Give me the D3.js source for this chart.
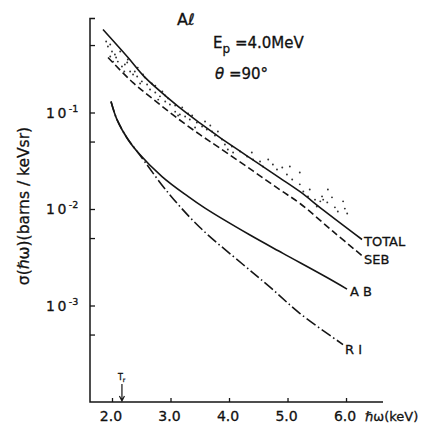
<!DOCTYPE html>
<html>
<head>
<meta charset="utf-8">
<script src="https://cdn.jsdelivr.net/npm/d3@7/dist/d3.min.js"></script>
<style>
  html, body { margin: 0; padding: 0; background: #fff; }
  svg { display: block; }
  text { font-family: "DejaVu Sans", "Liberation Sans", sans-serif; fill: #111; stroke: #111; stroke-width: 0.3px; }
</style>
</head>
<body>
<svg id="chart" width="432" height="427"></svg>
<script>
// Photon energy (keV) and cross section (barns / keV sr) for each curve
const totalE  = [1.846, 2.274, 2.564, 2.991, 3.282, 3.504, 3.846, 4.188, 4.530, 4.872, 5.214, 5.607, 6.274];
const totalV  = [0.724, 0.371, 0.231, 0.136, 0.0977, 0.0776, 0.0550, 0.0398, 0.0288, 0.0209, 0.0151, 0.0098, 0.00483];

const sebE    = [1.932, 2.359, 2.701, 3.077, 3.504, 3.846, 4.410, 4.872, 5.214, 5.778, 6.291];
const sebV    = [0.371, 0.204, 0.138, 0.0910, 0.0589, 0.0427, 0.0248, 0.0158, 0.0114, 0.00585, 0.00322];

const abE     = [1.983, 2.085, 2.274, 2.444, 2.855, 3.299, 3.590, 4.359, 4.923, 5.675, 6.017];
const abV     = [0.130, 0.0845, 0.0525, 0.0385, 0.0217, 0.0135, 0.0102, 0.00537, 0.00347, 0.00195, 0.00148];

const riE     = [1.983, 2.085, 2.274, 2.444, 2.957, 3.504, 4.239, 4.701, 5.214, 5.949];
const riV     = [0.130, 0.0845, 0.0525, 0.0385, 0.0148, 0.00643, 0.00266, 0.00155, 0.000826, 0.000394];

// Measured spectrum points
const expE = [1.93, 2.00, 1.97, 2.05, 2.10, 2.17, 2.22, 2.31, 2.36, 2.43, 2.51, 2.60, 2.65, 2.74, 2.82, 2.91, 2.99,
              3.08, 3.16, 3.25, 3.33, 3.45, 3.54, 3.62, 3.71,
              2.14, 2.27, 2.44, 2.56, 2.74, 2.91, 3.08, 3.30, 3.59,
              2.02, 2.21, 2.48, 2.79, 3.13, 3.42, 3.76,
              1.90, 1.97, 2.07, 2.26, 2.39, 2.53, 2.68, 2.86, 2.96, 3.20, 3.37, 3.68, 3.81, 3.88,
              3.93, 3.98, 4.05, 4.07, 4.19, 4.31, 4.39, 4.41, 4.53, 4.58, 4.67, 4.75, 4.82, 4.91, 4.99, 5.04,
              5.08, 5.21, 5.21, 5.27, 5.38, 5.35, 5.47, 5.56, 5.61, 5.68, 5.69, 5.76, 5.81, 5.86, 5.95, 5.98,
              6.02, 5.50, 5.59];
const expV = [0.483, 0.428, 0.380, 0.399, 0.337, 0.300, 0.314, 0.266, 0.248, 0.236, 0.210, 0.195, 0.173, 0.161, 0.147, 0.130, 0.121,
              0.102, 0.0953, 0.0910, 0.0845, 0.0787, 0.0716, 0.0667, 0.0636,
              0.428, 0.354, 0.292, 0.231, 0.190, 0.150, 0.118, 0.0977, 0.0807,
              0.337, 0.266, 0.200, 0.136, 0.0931, 0.0700, 0.0578,
              0.545, 0.507, 0.371, 0.330, 0.266, 0.248, 0.200, 0.165, 0.140, 0.113, 0.0931, 0.0733, 0.0636, 0.0525,
              0.0466, 0.0414, 0.0445, 0.0385, 0.0394, 0.0350, 0.0385, 0.0326, 0.0311, 0.0276, 0.0326, 0.0289, 0.0257, 0.0269, 0.0228, 0.0276,
              0.0202, 0.0239, 0.0180, 0.0152, 0.0159, 0.0135, 0.0125, 0.0120, 0.0125, 0.0117, 0.0159, 0.0132, 0.0104, 0.00942, 0.0120, 0.0101,
              0.00898, 0.0106, 0.0135];

// Axis ticks
const xTicks = [2.0, 3.0, 4.0, 5.0, 6.0];
const xTickLabels = ["2.0", "3.0", "4.0", "5.0", "6.0"];
const yMajor = [1e-1, 1e-2, 1e-3];
const yMajorExp = ["-1", "-2", "-3"];
const yMinor = [5e-1, 5e-2, 5e-3, 5e-4];
const thresholdE = 2.17;

const svg = d3.select("#chart");

const x = d3.scaleLinear().domain([1.624, 6.632]).range([90, 383]);
const y = d3.scaleLog().domain([1e-4, 1]).range([402, 16]);

const ink = "#151515";

// Axes: left axis with inward ticks and a small cap at top, bottom axis with inward ticks
const yTop = 0.94;
svg.append("path")
  .attr("d", `M${x.range()[0] + 5},${y(yTop)}H${x.range()[0]}V${y(1e-4)}H${x.range()[1]}`)
  .attr("fill", "none").attr("stroke", ink).attr("stroke-width", 1.5);

const yAxis = d3.axisRight(y).tickValues(yMajor.concat(yMinor)).tickSize(5).tickFormat("");
const gy = svg.append("g").attr("transform", `translate(${x.range()[0]},0)`).call(yAxis);
gy.select(".domain").remove();
gy.selectAll(".tick line").attr("stroke", ink).attr("stroke-width", 1.3);

const xAxis = d3.axisTop(x).tickValues(xTicks).tickSize(4).tickFormat("");
const gx = svg.append("g").attr("transform", `translate(0,${y(1e-4)})`).call(xAxis);
gx.select(".domain").remove();
gx.selectAll(".tick line").attr("stroke", ink).attr("stroke-width", 1.3);

// X tick labels
svg.selectAll(".xlab").data(xTicks).join("text")
  .attr("class", "xlab")
  .attr("x", d => x(d) - 1)
  .attr("y", 421)
  .attr("text-anchor", "middle")
  .attr("font-size", 14)
  .text((d, i) => xTickLabels[i]);

svg.append("text")
  .attr("x", 365).attr("y", 421)
  .attr("font-size", 13)
  .text("ℏω(keV)");

// Y tick labels: 10 with a superscript exponent
yMajor.forEach((v, i) => {
  const t = svg.append("text")
    .attr("x", 46).attr("y", y(v) + 5)
    .attr("font-size", 14)
    .attr("letter-spacing", 2.5);
  t.append("tspan").text("10");
  t.append("tspan").attr("dy", -6).attr("font-size", 9.5).attr("letter-spacing", 0).text(yMajorExp[i]);
});

// Y axis title
svg.append("text")
  .attr("transform", `translate(29,206) rotate(-90)`)
  .attr("text-anchor", "middle")
  .attr("font-size", 15.5)
  .text("σ(ℏω)(barns / keVsr)");

// Measured points
svg.append("g").selectAll("circle").data(expE).join("circle")
  .attr("cx", d => x(d))
  .attr("cy", (d, i) => y(expV[i]))
  .attr("r", 0.95)
  .attr("fill", "#333");

// Curves
const line = d3.line().x(d => x(d[0])).y(d => y(d[1])).curve(d3.curveCatmullRom.alpha(0.5));
function curve(E, V, dash) {
  svg.append("path")
    .attr("d", line(E.map((e, i) => [e, V[i]])))
    .attr("fill", "none")
    .attr("stroke", ink)
    .attr("stroke-width", 1.6)
    .attr("stroke-dasharray", dash);
}
curve(totalE, totalV, null);
curve(sebE, sebV, "7,3.5");
curve(abE, abV, null);
curve(riE, riV, "11,3,1.5,3");

// Curve names
const lab = (txt, xx, yy) => svg.append("text").attr("x", xx).attr("y", yy).attr("font-size", 13).text(txt);
lab("TOTAL", 364, 246);
lab("SEB", 364, 264);
lab("A B", 350, 296);
lab("R I", 345, 354);

// Title block
svg.append("text").attr("x", 177).attr("y", 25).attr("font-size", 16).text("Aℓ");
const ep = svg.append("text").attr("x", 213).attr("y", 48).attr("font-size", 15);
ep.append("tspan").text("E");
ep.append("tspan").attr("dy", 5).attr("font-size", 12).text("p");
ep.append("tspan").attr("dy", -5).text(" =4.0MeV");
const th = svg.append("text").attr("x", 215).attr("y", 79).attr("font-size", 15);
th.append("tspan").attr("font-style", "italic").text("θ");
th.append("tspan").text(" =90°");

// Threshold marker T_r
const tx = x(thresholdE);
svg.append("path")
  .attr("d", `M${tx},${y(1e-4) - 18}V${y(1e-4) - 1}M${tx - 2.5},${y(1e-4) - 6}L${tx},${y(1e-4) - 1}L${tx + 2.5},${y(1e-4) - 6}`)
  .attr("fill", "none").attr("stroke", ink).attr("stroke-width", 1.2);
const tr = svg.append("text").attr("x", tx - 4).attr("y", y(1e-4) - 22).attr("font-size", 8).attr("stroke-width", 0.1);
tr.append("tspan").text("T");
tr.append("tspan").attr("dy", 2).attr("font-size", 6).text("r");
</script>
</body>
</html>
